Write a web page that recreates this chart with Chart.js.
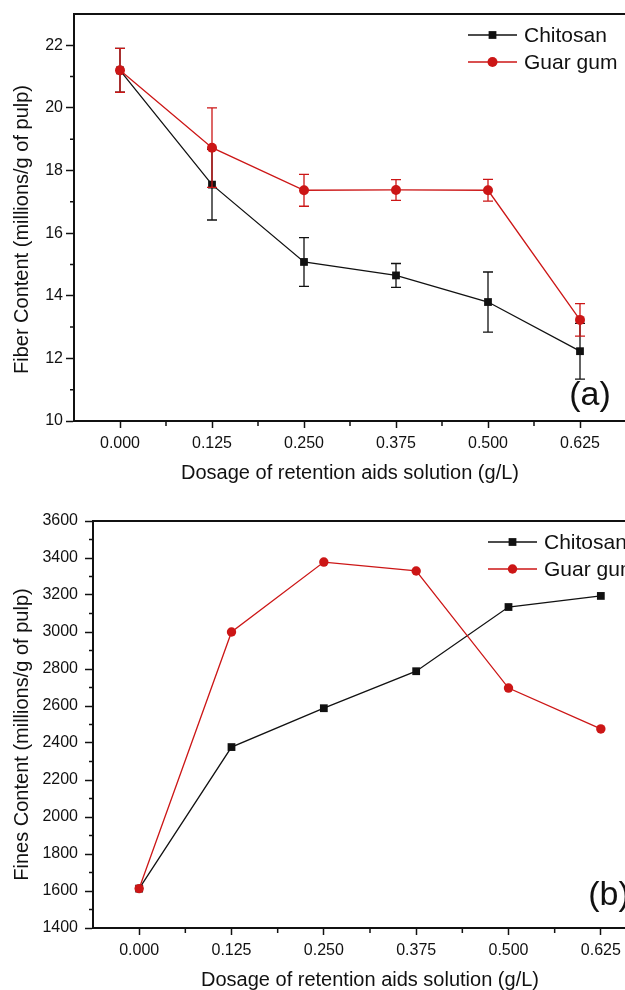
<!DOCTYPE html>
<html>
<head>
<meta charset="utf-8">
<script src="https://cdn.jsdelivr.net/npm/chart.js@4.4.1/dist/chart.umd.min.js"></script>
<style>
  html, body { margin: 0; padding: 0; background: #fff; overflow: hidden; width: 625px; height: 990px; }
  .box { position: absolute; left: 0; }
  #boxA { top: 0; width: 660px; height: 495px; }
  #boxB { top: 495px; width: 680px; height: 500px; }
</style>
</head>
<body>
<div class="box" id="boxA"><canvas id="chartA"></canvas></div>
<div class="box" id="boxB"><canvas id="chartB"></canvas></div>
<script>
// dosage of retention aids (g/L)
const dosages = [0, 0.125, 0.25, 0.375, 0.5, 0.625]
const xTicks = [0, 0.125, 0.25, 0.375, 0.5, 0.625]
const xMinorTicks = [0.0625, 0.1875, 0.3125, 0.4375, 0.5625]
const seriesNames = ['Chitosan', 'Guar gum']

// (a) fiber content
const chitosanFiber = [21.2, 17.55, 15.08, 14.65, 13.8, 12.23]
const chitosanFiberErr = [0.7, 1.13, 0.78, 0.38, 0.96, 0.89]
const guarFiber = [21.2, 18.73, 17.37, 17.38, 17.37, 13.23]
const guarFiberErr = [0.7, 1.27, 0.51, 0.33, 0.35, 0.52]
const fiberTicks = [10, 12, 14, 16, 18, 20, 22]
const fiberMinorTicks = [11, 13, 15, 17, 19, 21]

// (b) fines content
const chitosanFines = [1613, 2378, 2588, 2788, 3135, 3195]
const guarFines = [1613, 3000, 3378, 3330, 2697, 2476]
const finesTicks = [1400, 1600, 1800, 2000, 2200, 2400, 2600, 2800, 3000, 3200, 3400, 3600]
const finesMinorTicks = [1500, 1700, 1900, 2100, 2300, 2500, 2700, 2900, 3100, 3300, 3500]

const ink = '#111111'
const red = '#cc1616'
const family = '"Liberation Sans", Arial, sans-serif'

// frame, minor ticks, error bars, legend, panel label, y title
const decor = {
    id: 'decor',
    beforeDatasetDraw(chart, args) {
        const ds = chart.data.datasets[args.index]
        if (!ds.errors) return
        const y = chart.scales.y
        const ctx = chart.ctx
        ctx.save()
        ctx.strokeStyle = ds.borderColor
        ctx.lineWidth = 1.3
        args.meta.data.forEach((pt, i) => {
            const v = ds.data[i].y
            const e = ds.errors[i]
            const y1 = y.getPixelForValue(v + e)
            const y2 = y.getPixelForValue(v - e)
            ctx.beginPath()
            ctx.moveTo(pt.x, y1); ctx.lineTo(pt.x, y2)
            ctx.moveTo(pt.x - 5, y1); ctx.lineTo(pt.x + 5, y1)
            ctx.moveTo(pt.x - 5, y2); ctx.lineTo(pt.x + 5, y2)
            ctx.stroke()
        })
        ctx.restore()
    },
    afterDraw(chart, args, opts) {
        const ctx = chart.ctx
        const a = chart.chartArea
        const x = chart.scales.x
        const y = chart.scales.y
        ctx.save()
        ctx.strokeStyle = ink
        ctx.lineWidth = 2
        ctx.beginPath()
        ctx.moveTo(a.left - 1, a.top); ctx.lineTo(a.right, a.top); ctx.lineTo(a.right, a.bottom)
        ctx.stroke()

        ctx.lineWidth = 1.5
        ctx.beginPath()
        opts.xMinor.forEach(v => {
            const px = x.getPixelForValue(v)
            ctx.moveTo(px, a.bottom); ctx.lineTo(px, a.bottom + 5)
        })
        opts.yMinor.forEach(v => {
            const py = y.getPixelForValue(v)
            ctx.moveTo(a.left, py); ctx.lineTo(a.left - 4, py)
        })
        ctx.stroke()

        // legend
        ctx.font = '21px ' + family
        ctx.textBaseline = 'middle'
        ctx.textAlign = 'left'
        chart.data.datasets.forEach((ds, i) => {
            const lx = a.right + opts.legendDx
            const ly = a.top + opts.legendDy + i * 27
            ctx.strokeStyle = ds.borderColor
            ctx.lineWidth = 1.3
            ctx.beginPath()
            ctx.moveTo(lx, ly); ctx.lineTo(lx + 49, ly)
            ctx.stroke()
            ctx.fillStyle = ds.borderColor
            Chart.helpers.drawPoint(ctx, { pointStyle: ds.pointStyle, radius: ds.pointRadius, rotation: 0, borderWidth: 0 }, lx + 24.5, ly)
            ctx.fillStyle = ink
            ctx.fillText(ds.label, lx + 56, ly + 1)
        })

        // panel label
        ctx.font = '34px ' + family
        ctx.textAlign = 'center'
        ctx.fillText(opts.panel, a.right + opts.panelDx, a.bottom + opts.panelDy)

        // y title
        ctx.font = '20px ' + family
        ctx.translate(opts.yTitleX, (a.top + a.bottom) / 2 + opts.yTitleDy)
        ctx.rotate(-Math.PI / 2)
        ctx.fillText(opts.yTitle, 0, 0)
        ctx.restore()
    }
}

function makeChart(id, cfg) {
    const datasets = cfg.series.map(s => ({
        label: s.name,
        data: dosages.map((d, j) => ({ x: d, y: s.values[j] })),
        errors: s.errors,
        borderColor: s.color,
        backgroundColor: s.color,
        pointBackgroundColor: s.color,
        pointBorderColor: s.color,
        pointStyle: s.marker,
        pointRadius: s.radius,
        pointBorderWidth: 0,
        borderWidth: 1.3,
        tension: 0,
        order: s.order,
        clip: false
    }))
    return new Chart(document.getElementById(id), {
        type: 'line',
        data: { datasets: datasets },
        options: {
            responsive: true,
            maintainAspectRatio: false,
            animation: false,
            layout: { padding: { left: 0, top: cfg.padTop, right: cfg.padRight, bottom: 0 } },
            plugins: {
                legend: { display: false },
                tooltip: { enabled: false },
                decor: cfg.decor
            },
            scales: {
                x: {
                    type: 'linear',
                    min: -0.0625,
                    max: 0.6875,
                    afterBuildTicks: s => { s.ticks = xTicks.map(v => ({ value: v })) },
                    afterFit: s => { s.height = cfg.xHeight },
                    border: { display: true, color: ink, width: 2 },
                    grid: { display: true, drawOnChartArea: false, drawTicks: true, tickLength: 7, tickWidth: 1.5, tickColor: ink },
                    ticks: {
                        color: ink, autoSkip: false, maxRotation: 0, padding: 6,
                        font: { family: family, size: 16 },
                        callback: v => v.toFixed(3)
                    },
                    title: {
                        display: true, text: 'Dosage of retention aids solution (g/L)', color: ink,
                        font: { family: family, size: 20 },
                        padding: { top: 0, bottom: cfg.xTitlePad }
                    }
                },
                y: {
                    type: 'linear',
                    min: cfg.yMin,
                    max: cfg.yMax,
                    afterBuildTicks: s => { s.ticks = cfg.yTicks.map(v => ({ value: v })) },
                    afterFit: s => { s.width = cfg.yWidth },
                    border: { display: true, color: ink, width: 2 },
                    grid: { display: true, drawOnChartArea: false, drawTicks: true, tickLength: 8, tickWidth: 1.5, tickColor: ink },
                    ticks: {
                        color: ink, autoSkip: false, padding: cfg.yTickPad,
                        font: { family: family, size: 16 },
                        callback: v => String(v)
                    }
                }
            }
        },
        plugins: [decor]
    })
}

makeChart('chartA', {
    series: [
        { name: seriesNames[0], values: chitosanFiber, errors: chitosanFiberErr, color: ink, marker: 'rect', radius: 5.5, order: 1 },
        { name: seriesNames[1], values: guarFiber, errors: guarFiberErr, color: red, marker: 'circle', radius: 5, order: 0 }
    ],
    yMin: 10, yMax: 23, yTicks: fiberTicks,
    padTop: 14, padRight: 34, xHeight: 74, yWidth: 74, yTickPad: 3, xTitlePad: 10,
    decor: {
        xMinor: xMinorTicks, yMinor: fiberMinorTicks,
        legendDx: -158, legendDy: 21,
        panel: '(a)', panelDx: -36, panelDy: -25,
        yTitle: 'Fiber Content (millions/g of pulp)', yTitleX: 22, yTitleDy: 12
    }
})

makeChart('chartB', {
    series: [
        { name: seriesNames[0], values: chitosanFines, errors: null, color: ink, marker: 'rect', radius: 5.5, order: 1 },
        { name: seriesNames[1], values: guarFines, errors: null, color: red, marker: 'circle', radius: 4.7, order: 0 }
    ],
    yMin: 1400, yMax: 3600, yTicks: finesTicks,
    padTop: 26, padRight: 33, xHeight: 67, yWidth: 93, yTickPad: 7, xTitlePad: 3,
    decor: {
        xMinor: xMinorTicks, yMinor: finesMinorTicks,
        legendDx: -159, legendDy: 21,
        panel: '(b)', panelDx: -38, panelDy: -32,
        yTitle: 'Fines Content (millions/g of pulp)', yTitleX: 22, yTitleDy: 10
    }
})
</script>
</body>
</html>
